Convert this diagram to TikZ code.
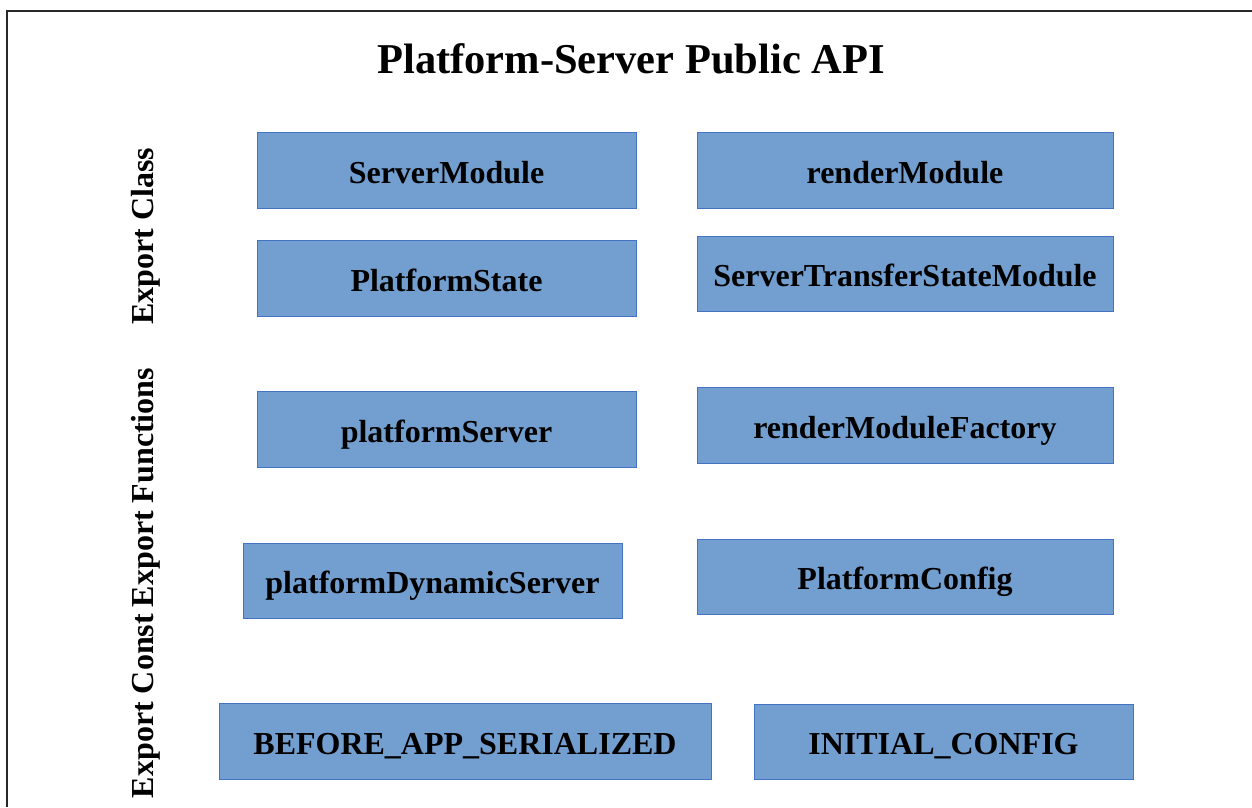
\documentclass[tikz,border=0pt]{standalone}
\usepackage{fontspec}
\setmainfont{Liberation Serif}
\definecolor{boxfill}{RGB}{114,159,207}
\definecolor{boxline}{RGB}{68,114,196}
\definecolor{frameline}{RGB}{40,40,40}
\begin{document}
\begin{tikzpicture}[x=1pt,y=-1pt,
  apibox/.style={draw=boxline,line width=1pt,fill=boxfill,inner sep=0pt,
    font=\fontsize{32}{38}\selectfont\bfseries,text height=26pt,text depth=0pt},
  sidelabel/.style={rotate=90,inner sep=0pt,font=\fontsize{32}{38}\selectfont\bfseries,anchor=base},
  titletext/.style={inner sep=0pt,anchor=base,font=\fontsize{42.5}{50}\selectfont\bfseries}]
\useasboundingbox (0,0) rectangle (1252,807);
\coordinate (fa) at (7,807);
\coordinate (fb) at (7,11);
\coordinate (fc) at (1252,11);
\draw[frameline,line width=1.5pt] (fa) -- (fb) -- (fc);
\node[titletext] (title) at (631,73) {Platform-Server Public API};
% boxes: x1,y1,x2,y2
\newcommand{\apinode}[6]{%
  \node[apibox,minimum width={#4-#2},minimum height={#5-#3}] (#1) at ({(#2+#4)/2},{(#3+#5)/2}) {#6};}
\apinode{sm}{257}{132}{636}{208}{ServerModule}
\apinode{rm}{697}{132}{1113}{208}{renderModule}
\apinode{ps}{257}{240}{636}{316}{PlatformState}
\apinode{stsm}{697}{236}{1113}{311}{ServerTransferStateModule}
\apinode{psrv}{257}{391}{636}{467}{platformServer}
\apinode{rmf}{697}{387}{1113}{463}{renderModuleFactory}
\apinode{pds}{243}{543}{622}{618}{platformDynamicServer}
\apinode{pc}{697}{539}{1113}{614}{PlatformConfig}
\apinode{bas}{219}{703}{711}{779}{BEFORE\_APP\_SERIALIZED}
\apinode{ic}{754}{704}{1133}{779}{INITIAL\_CONFIG}
\node[sidelabel] (lclass) at (153,236.5) {Export Class};
\node[sidelabel] (lfunc) at (153,487.5) {Export Functions};
\node[sidelabel] (lconst) at (153,706) {Export Const};
\end{tikzpicture}
\end{document}
